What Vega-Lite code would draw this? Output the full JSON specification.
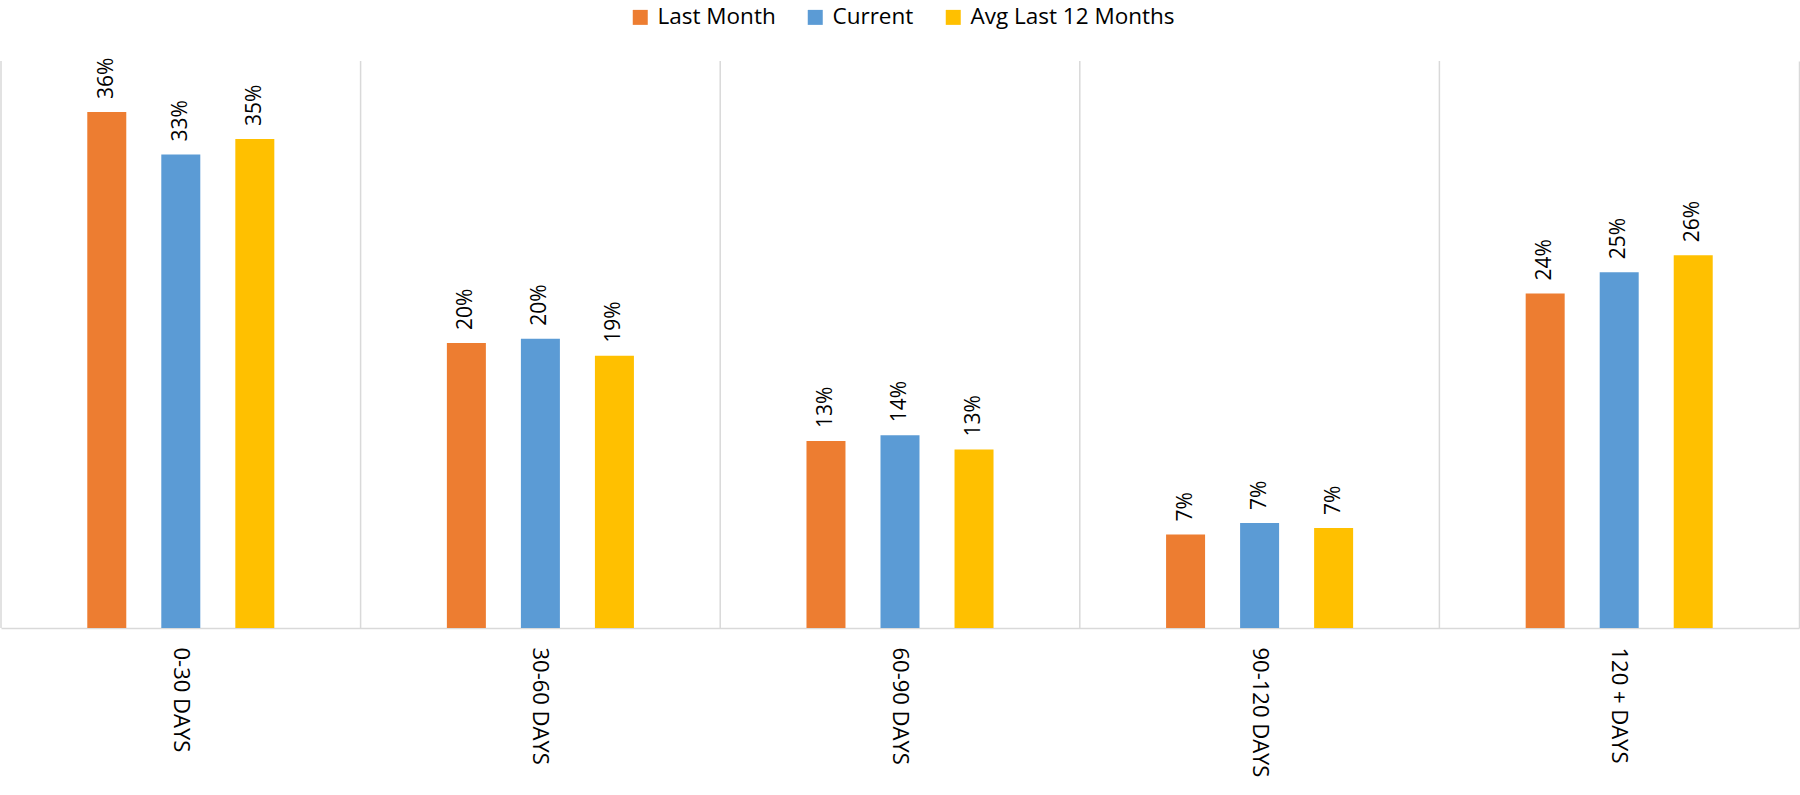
{
  "$schema": "https://vega.github.io/schema/vega-lite/v6.json",
  "width": 1798,
  "height": 567,
  "autosize": {"type": "none"},
  "padding": {"left": 1, "top": 61, "right": 1, "bottom": 167},
  "background": "white",
  "config": {
    "view": {"stroke": null},
    "font": "Open Sans",
    "text": {"font": "Open Sans"}
  },
  "data": {
    "values": [
      {"bucket": "0-30 DAYS", "series": "Last Month", "value": 0.364},
      {"bucket": "0-30 DAYS", "series": "Current", "value": 0.334},
      {"bucket": "0-30 DAYS", "series": "Avg Last 12 Months", "value": 0.345},
      {"bucket": "30-60 DAYS", "series": "Last Month", "value": 0.201},
      {"bucket": "30-60 DAYS", "series": "Current", "value": 0.204},
      {"bucket": "30-60 DAYS", "series": "Avg Last 12 Months", "value": 0.192},
      {"bucket": "60-90 DAYS", "series": "Last Month", "value": 0.132},
      {"bucket": "60-90 DAYS", "series": "Current", "value": 0.136},
      {"bucket": "60-90 DAYS", "series": "Avg Last 12 Months", "value": 0.126},
      {"bucket": "90-120 DAYS", "series": "Last Month", "value": 0.066},
      {"bucket": "90-120 DAYS", "series": "Current", "value": 0.074},
      {"bucket": "90-120 DAYS", "series": "Avg Last 12 Months", "value": 0.0705},
      {"bucket": "120 + DAYS", "series": "Last Month", "value": 0.236},
      {"bucket": "120 + DAYS", "series": "Current", "value": 0.251},
      {"bucket": "120 + DAYS", "series": "Avg Last 12 Months", "value": 0.263}
    ]
  },
  "encoding": {
    "x": {
      "field": "bucket",
      "type": "nominal",
      "sort": ["0-30 DAYS", "30-60 DAYS", "60-90 DAYS", "90-120 DAYS", "120 + DAYS"],
      "scale": {"paddingInner": 0, "paddingOuter": 0},
      "axis": {
        "title": null,
        "labelAngle": 90,
        "labelAlign": "left",
        "labelBaseline": "middle",
        "labelPadding": 19,
        "labelFontSize": 22,
        "labelColor": "#000000",
        "labelFont": "Open Sans",
        "ticks": false,
        "grid": false,
        "domain": true,
        "domainColor": "#d9d9d9",
        "domainWidth": 1.5
      }
    }
  },
  "layer": [
    {
      "data": {
        "values": [
          {"bucket": "0-30 DAYS"},
          {"bucket": "30-60 DAYS"},
          {"bucket": "60-90 DAYS"},
          {"bucket": "90-120 DAYS"},
          {"bucket": "120 + DAYS"}
        ]
      },
      "mark": {"type": "rule", "color": "#d9d9d9", "strokeWidth": 1.5},
      "encoding": {
        "x": {
          "field": "bucket",
          "type": "nominal",
          "bandPosition": 0,
          "sort": ["0-30 DAYS", "30-60 DAYS", "60-90 DAYS", "90-120 DAYS", "120 + DAYS"]
        }
      }
    },
    {
      "mark": {"type": "bar", "width": 39},
      "encoding": {
        "xOffset": {
          "field": "series",
          "type": "nominal",
          "sort": ["Last Month", "Current", "Avg Last 12 Months"],
          "scale": {"paddingInner": 0, "paddingOuter": 0.929}
        },
        "y": {
          "field": "value",
          "type": "quantitative",
          "scale": {"domain": [0, 0.4], "nice": false},
          "axis": {
            "orient": "right",
            "title": null,
            "labels": false,
            "ticks": false,
            "grid": false,
            "domain": true,
            "domainColor": "#d9d9d9",
            "domainWidth": 1.5
          }
        },
        "color": {
          "field": "series",
          "type": "nominal",
          "sort": ["Last Month", "Current", "Avg Last 12 Months"],
          "scale": {
            "domain": ["Last Month", "Current", "Avg Last 12 Months"],
            "range": ["#ED7D31", "#5B9BD5", "#FFC000"]
          },
          "legend": {
            "title": null,
            "orient": "none",
            "direction": "horizontal",
            "legendX": 628,
            "legendY": -55,
            "symbolType": "square",
            "symbolSize": 225,
            "symbolStrokeWidth": 0,
            "labelFontSize": 22.5,
            "labelFont": "Open Sans",
            "labelColor": "#000000",
            "labelLimit": 0,
            "labelOffset": 6,
            "columnPadding": 28
          }
        }
      }
    },
    {
      "mark": {
        "type": "text",
        "angle": -90,
        "align": "left",
        "baseline": "middle",
        "dx": 13,
        "fontSize": 21,
        "color": "#000000"
      },
      "encoding": {
        "xOffset": {
          "field": "series",
          "type": "nominal",
          "sort": ["Last Month", "Current", "Avg Last 12 Months"],
          "scale": {"paddingInner": 0, "paddingOuter": 0.929}
        },
        "y": {"field": "value", "type": "quantitative"},
        "text": {"field": "value", "type": "quantitative", "format": ".0%"}
      }
    }
  ]
}
